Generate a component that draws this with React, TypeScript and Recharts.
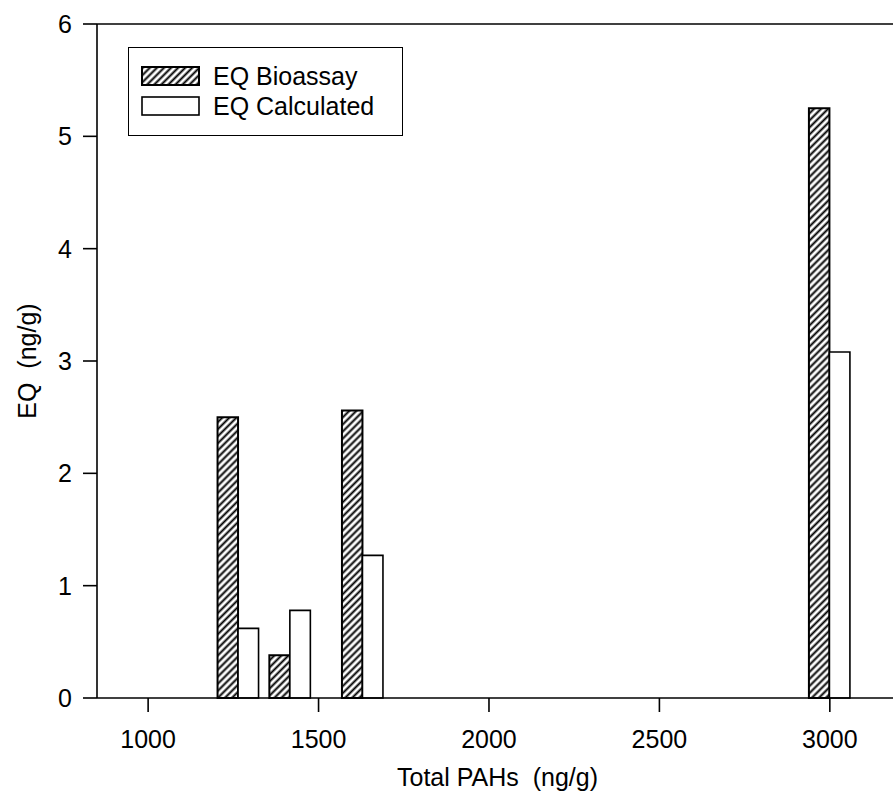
import { Bar, BarChart, Legend, ReferenceLine, XAxis, YAxis } from "recharts";

const totalPAHs = [1265, 1417, 1630, 3000];
const eqBioassay = [2.5, 0.38, 2.56, 5.25];
const eqCalculated = [0.62, 0.78, 1.27, 3.08];
const xTicks = [1000, 1500, 2000, 2500, 3000];
const yTicks = [0, 1, 2, 3, 4, 5, 6];

const data = totalPAHs.map((pah, i) => ({
  pah,
  bioassay: eqBioassay[i],
  calculated: eqCalculated[i],
}));

const FONT = "'Liberation Sans', Arial, sans-serif";
const tickStyle = { fill: "#000", fontSize: 25, fontFamily: FONT };
const lineStyle = { stroke: "#000", strokeWidth: 1.6 };

function HatchPattern({ id }: { id: string }) {
  return (
    <pattern id={id} patternUnits="userSpaceOnUse" width="5" height="5" patternTransform="rotate(45)">
      <rect width="5" height="5" fill="#fff" />
      <line x1="2.5" y1="0" x2="2.5" y2="5" stroke="#000" strokeWidth="2" />
    </pattern>
  );
}

function HatchSwatch() {
  return (
    <svg width={59} height={20} style={{ display: "block" }}>
      <defs>
        <HatchPattern id="hatchLegend" />
      </defs>
      <rect x={1} y={1} width={57} height={18} fill="url(#hatchLegend)" stroke="#000" strokeWidth={2} />
    </svg>
  );
}

function PlainSwatch() {
  return (
    <svg width={59} height={20} style={{ display: "block" }}>
      <rect x={1} y={1} width={57} height={18} fill="#fff" stroke="#000" strokeWidth={1.6} />
    </svg>
  );
}

function LegendBox() {
  const row = { display: "flex", alignItems: "center", height: 30 };
  return (
    <div
      style={{
        width: 275,
        height: 89,
        boxSizing: "border-box",
        border: "1.5px solid #000",
        background: "#fff",
        padding: "13px 0 0 12px",
        fontFamily: FONT,
        fontSize: 25,
        color: "#000",
      }}
    >
      <div style={row}>
        <HatchSwatch />
        <span style={{ marginLeft: 13 }}>EQ Bioassay</span>
      </div>
      <div style={row}>
        <PlainSwatch />
        <span style={{ marginLeft: 13 }}>EQ Calculated</span>
      </div>
    </div>
  );
}

export default function App() {
  return (
    <div style={{ position: "absolute", left: 0, top: 0, width: 893, height: 798, overflow: "hidden", background: "#fff" }}>
      <BarChart
        width={912}
        height={798}
        data={data}
        margin={{ top: 24, right: 14, bottom: 0, left: 0 }}
        barSize={20.5}
        barGap={0}
        style={{ fontFamily: FONT }}
      >
        <defs>
          <HatchPattern id="hatch" />
        </defs>
        <XAxis
          type="number"
          dataKey="pah"
          domain={[850, 3200]}
          ticks={xTicks}
          allowDataOverflow
          height={100}
          tickSize={14}
          tickMargin={18}
          tick={tickStyle}
          axisLine={lineStyle}
          tickLine={lineStyle}
          label={{
            content: (props: any) => {
              const vb = props.viewBox;
              return (
                <text
                  x={vb.x + vb.width / 2}
                  y={vb.y + 79}
                  textAnchor="middle"
                  dominantBaseline="central"
                  fontSize={25}
                  fontFamily={FONT}
                  fill="#000"
                >
                  Total PAHs{"\u00a0\u00a0"}(ng/g)
                </text>
              );
            },
          }}
        />
        <YAxis
          type="number"
          domain={[0, 6]}
          ticks={yTicks}
          width={97}
          tickSize={14}
          tickMargin={11}
          tick={tickStyle}
          axisLine={lineStyle}
          tickLine={lineStyle}
          label={{
            content: (props: any) => {
              const vb = props.viewBox;
              const cx = 27;
              const cy = vb.y + vb.height / 2;
              return (
                <text
                  x={cx}
                  y={cy}
                  transform={`rotate(-90, ${cx}, ${cy})`}
                  textAnchor="middle"
                  dominantBaseline="central"
                  fontSize={25}
                  fontFamily={FONT}
                  fill="#000"
                >
                  EQ{"\u00a0\u00a0"}(ng/g)
                </text>
              );
            },
          }}
        />
        <ReferenceLine y={6} stroke="#000" strokeWidth={1.6} />
        <ReferenceLine x={3200} stroke="#000" strokeWidth={1.6} />
        <Legend
          layout="vertical"
          align="center"
          verticalAlign="middle"
          wrapperStyle={{ left: 128, top: 47, width: 275, height: 89 }}
          content={() => <LegendBox />}
        />
        <Bar dataKey="bioassay" name="EQ Bioassay" fill="url(#hatch)" stroke="#000" strokeWidth={2} isAnimationActive={false} />
        <Bar dataKey="calculated" name="EQ Calculated" fill="#fff" stroke="#000" strokeWidth={1.6} isAnimationActive={false} />
      </BarChart>
    </div>
  );
}
